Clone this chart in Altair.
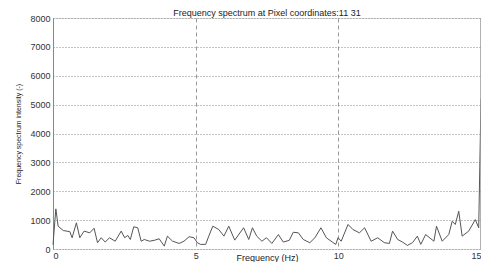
import altair as alt
import pandas as pd

freq_hz = [0.00, 0.10, 0.18, 0.36, 0.59, 0.67, 0.82, 0.94, 1.09, 1.29, 1.44, 1.56, 1.69, 1.83, 1.98,
           2.18, 2.39, 2.51, 2.62, 2.71, 2.83, 2.97, 3.09, 3.20, 3.38, 3.55, 3.72, 3.90, 4.01, 4.19,
           4.42, 4.59, 4.77, 4.94, 5.06, 5.17, 5.35, 5.46, 5.60, 5.81, 5.99, 6.16, 6.37, 6.68, 6.86,
           6.99, 7.14, 7.32, 7.48, 7.67, 7.90, 8.07, 8.28, 8.42, 8.60, 8.77, 9.00, 9.18, 9.39, 9.58,
           9.79, 9.91, 9.99, 10.10, 10.34, 10.51, 10.74, 10.92, 11.15, 11.38, 11.61, 11.79, 11.90,
           12.08, 12.25, 12.42, 12.60, 12.77, 12.89, 13.06, 13.35, 13.44, 13.64, 13.87, 13.99, 14.10,
           14.22, 14.34, 14.57, 14.80, 14.92, 15.00]
intensity = [150, 1390, 790, 640, 600, 390, 907, 390, 620, 560, 720, 217, 390, 240, 390,
             270, 620, 390, 470, 330, 770, 735, 270, 330, 270, 300, 355, 100, 445, 270,
             193, 270, 425, 390, 217, 160, 160, 445, 790, 675, 445, 790, 307, 735, 330,
             735, 445, 270, 390, 193, 500, 240, 300, 580, 560, 330, 217, 390, 735, 390,
             240, 160, 390, 270, 850, 675, 560, 735, 270, 390, 220, 193, 620,
             330, 240, 124, 220, 445, 160, 500, 270, 790, 270, 500, 960, 850,
             1307, 445, 620, 1020, 735, 5200]

x_ticks = [0, 5, 10, 15]
y_ticks = [0, 1000, 2000, 3000, 4000, 5000, 6000, 7000, 8000]

df = pd.DataFrame({"f": freq_hz, "v": intensity})

FONT = "Liberation Sans"
W, H = 428, 231

x_scale = alt.Scale(domain=[0, 15], nice=False)
y_scale = alt.Scale(domain=[0, 8000], nice=False)

x_axis = alt.Axis(values=x_ticks, title="Frequency (Hz)", grid=True, format="d",
                  gridDash=[4, 3], gridColor="#999999", gridOpacity=1,
                  domain=False, ticks=False, labelPadding=2, labelOverlap=False,
                  labelFontSize=9, labelColor="#333333", labelFont=FONT,
                  titleFontSize=9, titleFont=FONT, titleFontWeight="normal",
                  titleColor="#222222", titleY=4, titleBaseline="top")
y_axis = alt.Axis(values=y_ticks, title="Frequency spectrum intensity (-)", grid=True,
                  format="d", labelOverlap=False,
                  gridDash=[1, 2], gridColor="#888888", gridOpacity=1,
                  domain=True, domainColor="#888888", domainWidth=1,
                  ticks=False, labelPadding=3,
                  labelFontSize=9, labelColor="#333333", labelFont=FONT,
                  titleFontSize=7, titleFont=FONT, titleFontWeight="normal",
                  titleColor="#222222", titleX=-35, titleY=H / 2,
                  titleBaseline="middle", titleAlign="center")

line = alt.Chart(df).mark_line(color="#555555", strokeWidth=1).encode(
    x=alt.X("f:Q", scale=x_scale, axis=x_axis),
    y=alt.Y("v:Q", scale=y_scale, axis=y_axis))

frame = alt.Chart(pd.DataFrame({"f": [15], "v": [0], "hi": [8000]})).mark_rule(
    color="#999999", strokeWidth=1.5).encode(
    x=alt.X("f:Q", scale=x_scale, axis=x_axis),
    y=alt.Y("v:Q", scale=y_scale, axis=y_axis),
    y2="hi:Q")

chart = alt.layer(line, frame).properties(
    width=W, height=H,
    title=alt.TitleParams("Frequency spectrum at Pixel coordinates:11  31",
                          fontSize=9, font=FONT, fontWeight="normal", color="#222222",
                          offset=0, dy=4, anchor="middle", frame="group"),
    autosize=alt.AutoSizeParams(type="none"),
    padding={"left": 45, "top": 10, "right": 0, "bottom": 13},
).configure_view(stroke="transparent", strokeWidth=0).configure(background="white")

chart.save("out.html", embed_options={"renderer": "svg", "actions": False})
